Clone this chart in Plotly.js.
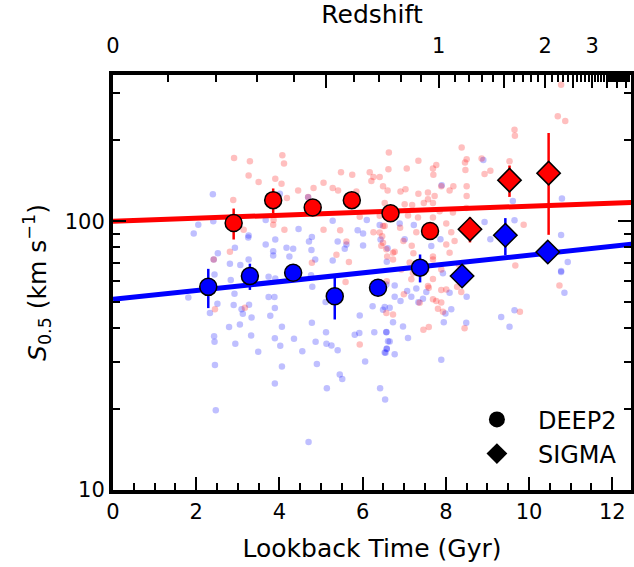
<!DOCTYPE html>
<html>
<head>
<meta charset="utf-8">
<script src="https://cdn.plot.ly/plotly-3.0.1.min.js"></script>
<style>html,body{margin:0;padding:0;background:#fff;}#chart{width:634px;height:567px;}</style>
</head>
<body>
<div id="chart"></div>
<script>
// ---------- faint individual galaxies ----------
const redT = [2.91,3.29,3.26,3.50,4.07,4.11,3.90,4.05,2.89,4.18,4.45,4.69,4.82,5.06,5.28,5.41,5.48,5.75,5.85,6.17,6.26,6.41,6.21,6.49,6.63,6.62,6.60,3.14,2.81,3.86,3.85,4.12,5.06,5.61,5.37,4.78,5.67,5.93,6.26,6.47,6.45,6.53,5.46,2.42,
5.59,2.45,3.17,5.93,6.58,
10.77,10.69,10.87,9.65,9.66,8.38,8.50,8.46,8.86,7.34,7.77,7.69,7.06,8.47,9.07,8.93,9.53,7.70,7.89,8.18,8.50,8.09,7.34,7.57,7.73,7.69,7.47,8.50,6.91,7.03,7.19,7.85,8.01,8.13,8.21,8.01,7.18,6.98,6.90,7.09,7.29,6.77,6.59,6.73,7.22,7.21,7.53,7.69,9.87,9.67,8.31,8.49,6.53,
10.73,9.78,8.45,7.59,7.46,7.77,7.89,7.81,7.93,6.73,7.59,7.69,6.99,7.17,8.27,8.37,7.89,
6.41,6.49,6.41,6.49,6.57,6.73,7.01,7.33,7.57,7.69,7.57,7.69,7.89,7.57,7.69,7.37,8.01,6.57,6.93,7.13,8.17,8.09];
const redS = [172,167,148,140,176,164,144,138,120,122,130,123,133,139,133,130,152,149,129,152,146,146,141,135,180,156,130,93,77,101,97,93,93,84,75,70,70.5,104,91,88,81,96,92.5,72,
59.4,47,47.7,34.8,59.8,
322,246,236,219,208,188,170,165.5,171,168,162,157,157,155,154,150,167,149,135,135,135,130,126.5,128,124,117,117,124,129,131.5,115,109,98,91,84.5,82,81,84.5,94.6,105,91,77,74,72,76,64,66,74,97,68.5,69,112,117,
57.7,46,40,40.4,39.5,50.5,49.8,47.2,46,45,56.6,61,53.5,60.8,57,54.5,55.5,
104.7,96,90.7,83.2,78.6,76.4,115.7,103.2,120.8,103.2,88.1,72.1,66.2,57.4,51.2,49.7,55.7,45.6,66.2,70.2,107.7,76.4];

const blueT = [2.40,2.05,1.94,2.41,3.67,4.01,2.52,2.81,2.93,3.06,3.25,3.26,3.67,3.90,3.85,3.85,4.17,4.24,4.33,4.46,4.69,4.71,4.78,4.77,4.86,5.28,5.40,5.28,5.57,5.61,5.88,6.01,6.01,6.10,6.41,6.43,6.57,6.60,6.58,3.26,2.42,
2.44,2.83,3.74,3.90,4.76,4.79,1.81,2.51,2.33,2.92,2.90,3.09,3.27,3.12,3.33,3.74,3.88,3.89,3.78,2.79,3.05,2.43,2.44,2.94,3.32,3.49,2.45,2.47,4.06,3.89,4.02,4.06,3.89,4.35,4.55,4.78,4.87,4.90,5.12,5.13,5.25,5.40,5.45,5.51,5.14,4.70,5.11,5.93,5.81,5.92,6.28,6.06,6.24,6.53,6.49,6.57,6.61,6.55,6.58,6.42,6.54,
8.90,10.79,9.61,7.90,7.23,6.89,8.93,9.07,9.65,10.77,10.93,10.77,7.01,7.87,7.65,7.37,
10.77,10.85,6.57,6.77,6.77,6.91,7.07,7.17,7.29,7.34,7.45,7.53,7.93,8.09,8.13,7.95,7.99,8.50,8.49,6.65,6.73,6.57,6.65,6.58,6.53,6.77,7.09,6.97,7.89,9.33,9.53,9.65];
const blueS = [126,97,90,100,101,126.5,76,69.5,79.6,68.7,87,88.5,82,85.5,77.4,74.6,79.6,74,79,93.6,122.7,84,87.3,78.2,72,100.5,84,71.4,79,82,92.5,90,81.3,101,96.8,85.5,107.7,79.3,70.6,72,72,
63.4,60.4,62.2,61.2,63,57,52,49.3,45.6,53.7,48.8,47,48.9,45.3,43.8,52.2,52.2,47.5,44.5,40.4,41.3,37.3,35.6,35,37.6,32.7,29.2,19.8,40.5,36.7,34.4,28.8,24.9,36.5,32.8,41.9,35.6,29.4,38.6,35,34.5,33.1,26.9,25.9,23.9,15.1,50.1,44.6,37.8,38.4,38.6,30.1,48.3,48,46.8,38.6,35.8,32.4,33.6,23.9,21.7,
169,121.6,119,136,96.8,98,99.3,85.7,100.9,88.9,70.5,65.3,85.7,85.7,80.9,64.3,
64.7,54.2,58.2,57.7,52.4,50.5,55,52.4,56.2,50,51.5,54.5,64,54.2,47,42.1,45.4,52.4,41.9,47.7,42.1,38.7,35.7,33.5,32.5,32,36.8,40.6,30.5,44,40.5,46.6];

// ---------- binned medians ----------
const deep2RedT   = [2.90, 3.85, 4.80, 5.74, 6.67, 7.62];
const deep2RedS   = [98.5, 119.8, 112.5, 119.8, 107.1, 92.0];
const deep2RedErr = [13, 12.6, 5, 5, 4, 4];
const deep2BlueT   = [2.29, 3.29, 4.33, 5.33, 6.37, 7.38];
const deep2BlueS   = [57.0, 62.5, 64.3, 52.6, 56.6, 67.2];
const deep2BlueErr = [9.5, 7, 4, 9.5, 3, 8];
const sigmaRedT   = [8.58, 9.53, 10.47];
const sigmaRedS   = [93.4, 142.2, 151];
const sigmaRedErr = [10, 19, 62];
const sigmaBlueT   = [8.39, 9.43, 10.45];
const sigmaBlueS   = [62.5, 88.7, 76.8];
const sigmaBlueErr = [3, 14, 3];

// ---------- fits ----------
const fitT = [0, 12.5];
const fitRedS = [100, 117.5];
const fitBlueS = [51.2, 82.2];

// ---------- redshift axis ----------
const zLabelled = [0, 1, 2, 3];
const zLabelText = ['0', '1', '2', '3'];
const zMajor = [0,0.5,1,1.5,2,2.5,3,3.5,4,4.5,5];
const H0 = 69, Om = 0.3;
function lookback(z){
  const n = 400, h = z/n; let s = 0;
  for (let i=0;i<=n;i++){
    const zz = i*h;
    const f = 1/((1+zz)*Math.sqrt(Om*Math.pow(1+zz,3)+1-Om));
    s += (i===0||i===n) ? f : (i%2 ? 4*f : 2*f);
  }
  return (977.8/H0)*s*h/3;
}
const XMAX = 12.45;
const zMinor = [];
for (let k=1;k<=60;k++){ if (k%5!==0) zMinor.push(k/10); }
const topLabelVals = zLabelled.map(lookback);
const topMajorVals = zMajor.map(lookback).filter(v=>v<=XMAX+1e-9);
const topMinorVals = zMinor.map(lookback).filter(v=>v<=XMAX);

const FONT = 'DejaVu Sans, sans-serif';
const RED = '#ff0000', BLUE = '#0000ff';

const traces = [
  {x: blueT, y: blueS, type:'scatter', mode:'markers', showlegend:false, hoverinfo:'skip',
   marker:{size:6.5, color:BLUE, opacity:0.25}},
  {x: redT, y: redS, type:'scatter', mode:'markers', showlegend:false, hoverinfo:'skip',
   marker:{size:6.5, color:RED, opacity:0.25}},
  {x: fitT, y: fitRedS, type:'scatter', mode:'lines', showlegend:false, line:{color:RED, width:5}},
  {x: fitT, y: fitBlueS, type:'scatter', mode:'lines', showlegend:false, line:{color:BLUE, width:5}},
  {x: deep2RedT, y: deep2RedS, type:'scatter', mode:'markers', showlegend:false,
   error_y:{type:'data', array:deep2RedErr, color:RED, thickness:2.5, width:0},
   marker:{symbol:'circle', size:17, color:RED, line:{color:'#000', width:1.5}}},
  {x: deep2BlueT, y: deep2BlueS, type:'scatter', mode:'markers', showlegend:false,
   error_y:{type:'data', array:deep2BlueErr, color:BLUE, thickness:2.5, width:0},
   marker:{symbol:'circle', size:17, color:BLUE, line:{color:'#000', width:1.5}}},
  {x: sigmaRedT, y: sigmaRedS, type:'scatter', mode:'markers', showlegend:false,
   error_y:{type:'data', array:sigmaRedErr, color:RED, thickness:2.5, width:0},
   marker:{symbol:'diamond', size:18, color:RED, line:{color:'#000', width:1.5}}},
  {x: sigmaBlueT, y: sigmaBlueS, type:'scatter', mode:'markers', showlegend:false,
   error_y:{type:'data', array:sigmaBlueErr, color:BLUE, thickness:2.5, width:0},
   marker:{symbol:'diamond', size:18, color:BLUE, line:{color:'#000', width:1.5}}},
  // legend entries
  {x:[null], y:[null], type:'scatter', mode:'markers', name:'DEEP2', legendgroup:'a',
   marker:{symbol:'circle', size:16, color:'#000'}},
  {x:[null], y:[null], type:'scatter', mode:'markers', name:'SIGMA', legendgroup:'b',
   marker:{symbol:'diamond', size:16, color:'#000'}},
  // carriers for the top axes
  {x:[0], y:[10], xaxis:'x2', type:'scatter', mode:'markers', showlegend:false, hoverinfo:'skip',
   marker:{size:1, opacity:0}},
  {x:[0], y:[10], xaxis:'x3', type:'scatter', mode:'markers', showlegend:false, hoverinfo:'skip',
   marker:{size:1, opacity:0}}
];

const layout = {
  width:634, height:567,
  margin:{l:113, r:3, t:75, b:77},
  paper_bgcolor:'#fff', plot_bgcolor:'#fff',
  font:{family:FONT, color:'#000', size:21},
  showlegend:true,
  legend:{x:0.662, y:0.033, xanchor:'left', yanchor:'bottom', bgcolor:'rgba(0,0,0,0)',
          font:{size:24}, traceorder:'grouped', tracegroupgap:0, itemwidth:72},
  xaxis:{range:[0, XMAX], showgrid:false, zeroline:false, showline:true, linewidth:4, linecolor:'#000',
         mirror:true, ticks:'inside', ticklen:13, tickwidth:2, tickcolor:'#000', dtick:2, tick0:0,
         tickfont:{size:21},
         minor:{dtick:0.5, tick0:0, ticks:'inside', ticklen:7, tickwidth:2, tickcolor:'#000', showgrid:false},
         title:{text:'Lookback Time (Gyr)', font:{size:25}, standoff:17}},
  // top axis: labels only
  xaxis2:{overlaying:'x', side:'top', range:[0, XMAX], showgrid:false, zeroline:false, showline:false,
          ticks:'outside', ticklen:13, tickwidth:1, tickcolor:'rgba(0,0,0,0)',
          tickmode:'array', tickvals:topLabelVals, ticktext:zLabelText, tickfont:{size:21},
          title:{text:'Redshift', font:{size:25}, standoff:2}},
  // top axis: tick marks only
  xaxis3:{overlaying:'x', side:'top', range:[0, XMAX], showgrid:false, zeroline:false, showline:false,
          showticklabels:false, ticks:'inside', ticklen:13, tickwidth:2, tickcolor:'#000',
          tickmode:'array', tickvals:topMajorVals,
          minor:{tickmode:'array', tickvals:topMinorVals, ticks:'inside', ticklen:7, tickwidth:2, tickcolor:'#000', showgrid:false}},
  yaxis:{type:'log', range:[1, Math.log10(350)], showgrid:false, zeroline:false, showline:true, linewidth:4,
         linecolor:'#000', mirror:'ticks', ticks:'inside', ticklen:13, tickwidth:2, tickcolor:'#000',
         tickmode:'array', tickvals:[10,100], ticktext:['10','100'], tickfont:{size:21},
         minor:{tickmode:'array', tickvals:[20,30,40,50,60,70,80,90,200,300], ticks:'inside', ticklen:7, tickwidth:2, tickcolor:'#000', showgrid:false},
         title:{text:'<i>S</i><sub>0.5</sub> (km s<sup>−1</sup>)', font:{size:25}, standoff:12}}
};

Plotly.newPlot('chart', traces, layout, {displayModeBar:false, staticPlot:true});
</script>
</body>
</html>
